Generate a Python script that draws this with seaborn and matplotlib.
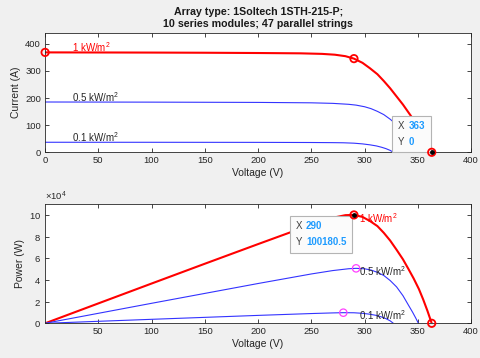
import matplotlib
matplotlib.use("Agg")
import matplotlib.pyplot as plt
from matplotlib.offsetbox import AnnotationBbox, HPacker, VPacker, TextArea
import pandas as pd
import seaborn as sns

# I-V readings per irradiance level (voltage V, current A)
v_1000 = [0, 50, 100, 150, 200, 240, 260, 272, 282, 290, 298, 305, 312, 318, 324, 330, 336, 341, 346, 351, 355, 359, 363]
i_1000 = [368.5, 368.2, 367.8, 367.2, 366.2, 365, 363, 360, 354.5, 345.5, 330, 310, 288, 263, 236, 206, 176, 148, 120, 90, 62, 32, 0]
v_500 = [0, 100, 200, 250, 270, 285, 292, 300, 306, 312, 318, 324, 330, 336, 341, 345, 348, 350.5]
i_500 = [185.5, 185, 184, 182.5, 180.5, 177, 174, 168, 161, 151, 139, 122, 102, 76, 50, 30, 14, 0]
v_100 = [0, 100, 200, 250, 270, 280, 290, 298, 305, 311, 316, 320, 324, 327]
i_100 = [37, 36.9, 36.6, 36.1, 35.6, 35.1, 33.6, 31, 27.5, 23.5, 18.5, 13.5, 7, 0]

labels = ["1 kW/m$^2$", "0.5 kW/m$^2$", "0.1 kW/m$^2$"]
line_colors = ["#ff0000", "#3333ff", "#3333ff"]
label_colors = ["#ff0000", "#262626", "#262626"]
line_widths = [1.5, 0.8, 0.8]

# maximum power points and open circuit point
mpp_v = [290, 292, 280]
mpp_p = [100180.5, 50800, 9830]
mpp_i_1000 = 345.5
isc_1000 = 368.5
voc_1000 = 363

plt.rcParams["mathtext.fontset"] = "custom"
plt.rcParams["mathtext.rm"] = "Liberation Sans"
plt.rcParams["mathtext.it"] = "Liberation Sans:italic"

sns.set_style("white")
plt.rcParams["font.family"] = ["Liberation Sans", "DejaVu Sans"]

ink = "#262626"
curves = []
for lab, v, i in zip(labels, [v_1000, v_500, v_100], [i_1000, i_500, i_100]):
    d = pd.DataFrame({"V": v, "I": i})
    d["P"] = d["V"] * d["I"]
    d["level"] = lab
    curves.append(d)

fig = plt.figure(figsize=(4.8, 3.58), dpi=100, facecolor="#f0f0f0")
ax1 = fig.add_axes([0.094, 0.5746, 0.8875, 0.3332])
ax2 = fig.add_axes([0.094, 0.0969, 0.8875, 0.3324])

for d, c, lw in zip(curves, line_colors, line_widths):
    sns.lineplot(data=d, x="V", y="I", ax=ax1, color=c, linewidth=lw, sort=False, estimator=None)
    sns.lineplot(data=d, x="V", y="P", ax=ax2, color=c, linewidth=lw, sort=False, estimator=None)

# curve labels
for d, lab, c in zip(curves, labels, label_colors):
    ax1.annotate(lab, (25, d["I"].iloc[0]), xytext=(0, -1.5), textcoords="offset points",
                 va="bottom", ha="left", color=c, fontsize=7)
for lab, c, p in zip(labels, label_colors, mpp_p):
    ax2.annotate(lab, (295, p), xytext=(0, -2), textcoords="offset points",
                 va="center", ha="left", color=c, fontsize=7)


def datatip(ax, xy, xs, ys, align, offset):
    tip_gray = dict(color="#404040", fontsize=7)
    tip_blue = dict(color="#1e9bff", fontsize=7, fontweight="bold")
    rows = [HPacker(children=[TextArea("X", textprops=tip_gray), TextArea(xs, textprops=tip_blue)], pad=0, sep=3),
            HPacker(children=[TextArea("Y", textprops=tip_gray), TextArea(ys, textprops=tip_blue)], pad=0, sep=3)]
    box = VPacker(children=rows, pad=4, sep=4, align="left")
    ab = AnnotationBbox(box, xy, xybox=offset, boxcoords="offset pixels", box_alignment=align,
                        frameon=True, pad=0, annotation_clip=False,
                        bboxprops=dict(facecolor="#fbfbfb", edgecolor="#b4b4b4", linewidth=0.8))
    ab.set_zorder(7)
    ax.add_artist(ab)


datatip(ax1, (voc_1000, 0), str(voc_1000), "0", (1, 0), (-1, 0))
datatip(ax2, (mpp_v[0], mpp_p[0]), str(mpp_v[0]), "100180.5", (1, 1), (-2, -1))

# markers
red_top = pd.DataFrame({"V": [0, mpp_v[0], voc_1000], "I": [isc_1000, mpp_i_1000, 0]})
sns.scatterplot(data=red_top, x="V", y="I", ax=ax1, marker="o", s=28, facecolor="none",
                edgecolor="#ff0000", linewidth=1.3, clip_on=False, zorder=9)
red_bot = pd.DataFrame({"V": [mpp_v[0], voc_1000], "P": [mpp_p[0], 0]})
sns.scatterplot(data=red_bot, x="V", y="P", ax=ax2, marker="o", s=28, facecolor="none",
                edgecolor="#ff0000", linewidth=1.3, clip_on=False, zorder=9)
mag = pd.DataFrame({"V": mpp_v[1:], "P": mpp_p[1:]})
sns.scatterplot(data=mag, x="V", y="P", ax=ax2, marker="o", s=28, facecolor="none",
                edgecolor="#ff40ff", linewidth=0.9, clip_on=False, zorder=9)
ax1.scatter([voc_1000], [0], s=6, color="black", zorder=10, clip_on=False)
ax2.scatter([mpp_v[0]], [mpp_p[0]], s=6, color="black", zorder=10, clip_on=False)

for ax in (ax1, ax2):
    ax.set_facecolor("white")
    ax.set_xlim(0, 400)
    for s in ax.spines.values():
        s.set_color(ink)
        s.set_linewidth(0.6)
    ax.tick_params(direction="in", length=3, width=0.6, colors=ink, labelsize=6.8,
                   top=True, right=True, bottom=True, left=True, pad=3)
    ax.set_xlabel("Voltage (V)", fontsize=7.5, color=ink, labelpad=2)

ax1.set_ylim(0, 440)
ax1.set_xticks(range(0, 401, 50))
ax1.set_yticks(range(0, 401, 100))
ax1.set_ylabel("Current (A)", fontsize=7.5, color=ink, labelpad=3)

ax2.set_ylim(0, 110000)
ax2.set_xticks(range(50, 401, 50))
ax2.set_yticks(range(0, 100001, 20000))
ax2.ticklabel_format(axis="y", style="sci", scilimits=(4, 4), useMathText=True)
ax2.yaxis.get_offset_text().set_fontsize(6.8)
ax2.yaxis.get_offset_text().set_color(ink)
ax2.set_ylabel("Power (W)", fontsize=7.5, color=ink, labelpad=3)

ax1.set_title("Array type: 1Soltech 1STH-215-P;\n10 series modules; 47 parallel strings",
              fontsize=7.7, fontweight="bold", color="#1a1a1a", pad=4, linespacing=1.3)

fig.savefig("out.png", dpi=100, facecolor=fig.get_facecolor())
